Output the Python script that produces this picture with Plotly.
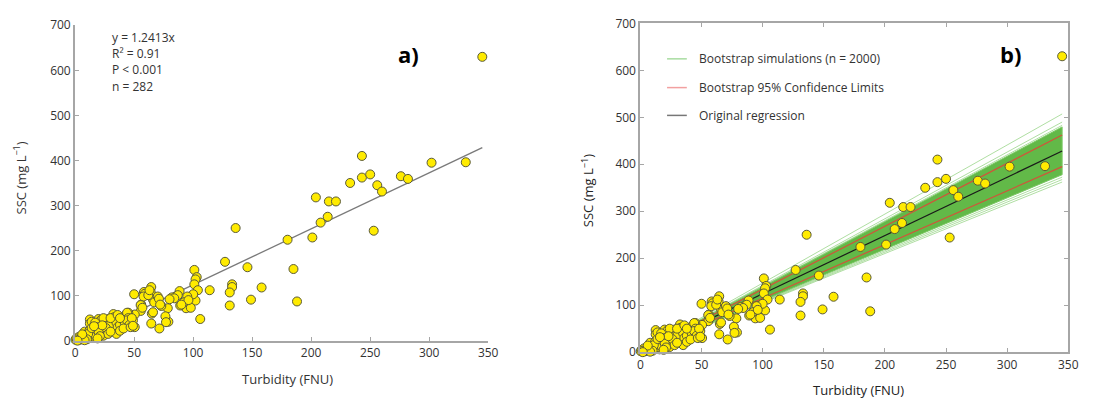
import plotly.graph_objects as go

# ---------------- data ----------------
turbidity = [
    345, 243, 243, 250, 233, 256, 260, 276, 282, 302, 331, 253, 215, 221, 214, 208, 204, 180, 201, 185,
    188, 158, 149, 136, 127, 146, 131, 133, 133, 131, 114, 106, 101, 103, 102, 101, 104, 102, 100,
    95, 97, 94, 89, 88.5, 85, 82, 78.5, 79, 76.5, 71.4, 73, 64.5, 58.3, 64, 66, 67, 70, 65, 64.5,
    56, 55.6, 50, 50.5, 50.5, 45, 87, 84, 80, 71, 72, 66, 77, 59, 58, 55.5, 57, 49, 62, 63, 98, 92, 96, 90,
    32.4, 33, 31, 25.4, 19.8, 12.5, 12.5, 19.8, 15.7, 24, 0.3, 40, 42, 44, 45, 39.4, 33.8, 28, 22, 24,
    14, 17, 8, 12, 17, 1, 3, 6, 9, 13, 16, 2, 4, 5, 7, 10, 20, 22, 25, 27, 30, 35, 36, 38, 42, 44, 46,
    48, 30, 26, 18, 20, 11, 14, 28, 35, 38, 41, 47, 49, 36, 38, 30, 23, 21, 19, 10, 8, 6, 2, 16,
]
ssc = [
    630, 410, 362, 369, 350, 345, 331, 365, 359, 395, 396, 244, 309, 309, 275, 262, 318, 224, 229, 159,
    87, 118, 91, 250, 175, 163, 78, 125, 119, 107, 112, 48, 157, 141, 136, 125, 112, 89, 103,
    98, 74, 72, 78, 110, 98, 96, 72, 42, 54, 27, 77, 119, 108, 108, 91, 85, 98, 60, 38,
    80, 66, 103, 58, 30, 62, 101, 94, 92, 93, 80, 63, 41, 104, 98, 79, 73, 45, 101, 112, 73, 85, 90, 80,
    59, 52, 27, 45, 48, 47, 38, 38, 6, 11, 2, 45, 55, 62, 50, 30, 23, 48, 46, 50,
    42, 40, 20, 22, 21, 5, 8, 10, 12, 10, 15, 3, 2, 6, 4, 8, 30, 25, 20, 33, 35, 40, 30, 35, 40, 45, 35,
    50, 50, 28, 25, 18, 15, 28, 15, 15, 22, 27, 30, 33, 57, 50, 20, 34, 10, 5, 3, 1, 14, 0, 32,
]

reg_slope = 1.2413
line_x = [0, 345]
band_slopes = [1.095, 1.39]                       # dense bootstrap envelope
faint_slopes = [1.05, 1.065, 1.08, 1.40, 1.42, 1.47]  # outlying bootstrap runs
ci_slopes = [1.145, 1.34]                         # bootstrap 95% confidence limits

stats_lines = ["y = 1.2413x", "R² = 0.91", "P < 0.001", "n = 282"]
legend_labels = ["Bootstrap simulations (n = 2000)", "Bootstrap 95% Confidence Limits", "Original regression"]
tick_x = [0, 50, 100, 150, 200, 250, 300, 350]
tick_y = [0, 100, 200, 300, 400, 500, 600, 700]

W, H = 1100, 410
FONT = "Open Sans"
TXT = "#333333"
AX = "#a6a6a6"


def px(x):
    return x / W


def py(y):
    return (H - y) / H


fig = go.Figure()

marker = dict(size=9, color="#ffeb00", line=dict(color="#5a5a3a", width=1))

# ---- panel a ----
fig.add_trace(go.Scatter(x=line_x, y=[reg_slope * v for v in line_x], mode="lines",
                         line=dict(color="#7a7a7a", width=1.4), xaxis="x", yaxis="y",
                         showlegend=False, hoverinfo="skip"))
fig.add_trace(go.Scatter(x=turbidity, y=ssc, mode="markers", marker=marker, xaxis="x", yaxis="y",
                         cliponaxis=False, showlegend=False))

# ---- panel b ----
for s in faint_slopes:
    fig.add_trace(go.Scatter(x=line_x, y=[s * v for v in line_x], mode="lines",
                             line=dict(color="rgba(110,195,85,0.55)", width=1), xaxis="x2", yaxis="y2",
                             showlegend=False, hoverinfo="skip"))
fig.add_trace(go.Scatter(x=[0, line_x[1], line_x[1], 0],
                         y=[0, band_slopes[1] * line_x[1], band_slopes[0] * line_x[1], 0],
                         mode="lines", fill="toself", fillcolor="#62b948",
                         line=dict(color="#7cc965", width=1), xaxis="x2", yaxis="y2",
                         showlegend=False, hoverinfo="skip"))
for s in ci_slopes:
    fig.add_trace(go.Scatter(x=line_x, y=[s * v for v in line_x], mode="lines",
                             line=dict(color="#d0553a", width=1.2), xaxis="x2", yaxis="y2",
                             showlegend=False, hoverinfo="skip"))
fig.add_trace(go.Scatter(x=line_x, y=[reg_slope * v for v in line_x], mode="lines",
                         line=dict(color="#1a1a1a", width=1.2), xaxis="x2", yaxis="y2",
                         showlegend=False, hoverinfo="skip"))
fig.add_trace(go.Scatter(x=turbidity, y=ssc, mode="markers", marker=marker, xaxis="x2", yaxis="y2",
                         cliponaxis=False, showlegend=False))

axis_common = dict(showgrid=False, zeroline=False, showline=True, linecolor=AX, linewidth=2,
                   ticks="inside", ticklen=4, tickcolor=AX, tickwidth=1,
                   tickfont=dict(family=FONT, size=12, color=TXT), fixedrange=True)

fig.update_layout(
    width=W, height=H, margin=dict(l=0, r=0, t=0, b=0),
    paper_bgcolor="white", plot_bgcolor="white", showlegend=False,
    xaxis=dict(domain=[px(73), px(491)], range=[0, 350], tickvals=tick_x, anchor="y", **axis_common),
    yaxis=dict(domain=[py(346), py(17)], range=[0, 700], tickvals=tick_y, anchor="x", **axis_common),
    xaxis2=dict(domain=[px(645), px(1078)], range=[0, 350], tickvals=tick_x, anchor="y2",
                mirror="allticks", **axis_common),
    yaxis2=dict(domain=[py(358), py(15)], range=[0, 700], tickvals=tick_y, anchor="x2",
                mirror="allticks", **axis_common),
)

ann = []
for i, t in enumerate(stats_lines):
    ann.append(dict(x=px(108), y=py(30 + i * 16.8), xref="paper", yref="paper", text=t, showarrow=False,
                    xanchor="left", yanchor="middle", font=dict(family=FONT, size=12, color=TXT)))
ann.append(dict(x=px(410), y=py(47), xref="paper", yref="paper", text="<b>a)</b>", showarrow=False,
                xanchor="center", yanchor="middle", font=dict(family=FONT, size=22, color="black")))
ann.append(dict(x=px(1020), y=py(47), xref="paper", yref="paper", text="<b>b)</b>", showarrow=False,
                xanchor="center", yanchor="middle", font=dict(family=FONT, size=22, color="black")))
ann.append(dict(x=px(288), y=py(386), xref="paper", yref="paper", text="Turbidity (FNU)", showarrow=False,
                xanchor="center", yanchor="middle", font=dict(family=FONT, size=13, color=TXT)))
ann.append(dict(x=px(866), y=py(398), xref="paper", yref="paper", text="Turbidity (FNU)", showarrow=False,
                xanchor="center", yanchor="middle", font=dict(family=FONT, size=13, color="#222")))
ann.append(dict(x=px(17), y=py(176), xref="paper", yref="paper", text="SSC (mg L<sup>−1</sup>)",
                showarrow=False, textangle=-90, xanchor="center", yanchor="middle",
                font=dict(family=FONT, size=13, color=TXT)))
ann.append(dict(x=px(591), y=py(190), xref="paper", yref="paper", text="SSC (mg L<sup>−1</sup>)",
                showarrow=False, textangle=-90, xanchor="center", yanchor="middle",
                font=dict(family=FONT, size=13, color="#222")))

legend_colors = ["#a8dca0", "#f2a0a0", "#777777"]
legend_y = [52, 82, 111]
shapes = []
for lab, col, yy in zip(legend_labels, legend_colors, legend_y):
    shapes.append(dict(type="line", xref="paper", yref="paper", x0=px(672), x1=px(692), y0=py(yy), y1=py(yy),
                       line=dict(color=col, width=1.5)))
    ann.append(dict(x=px(702), y=py(yy), xref="paper", yref="paper", text=lab, showarrow=False,
                    xanchor="left", yanchor="middle", font=dict(family=FONT, size=12, color=TXT)))

fig.update_layout(annotations=ann, shapes=shapes)

fig.write_html("out.html")
